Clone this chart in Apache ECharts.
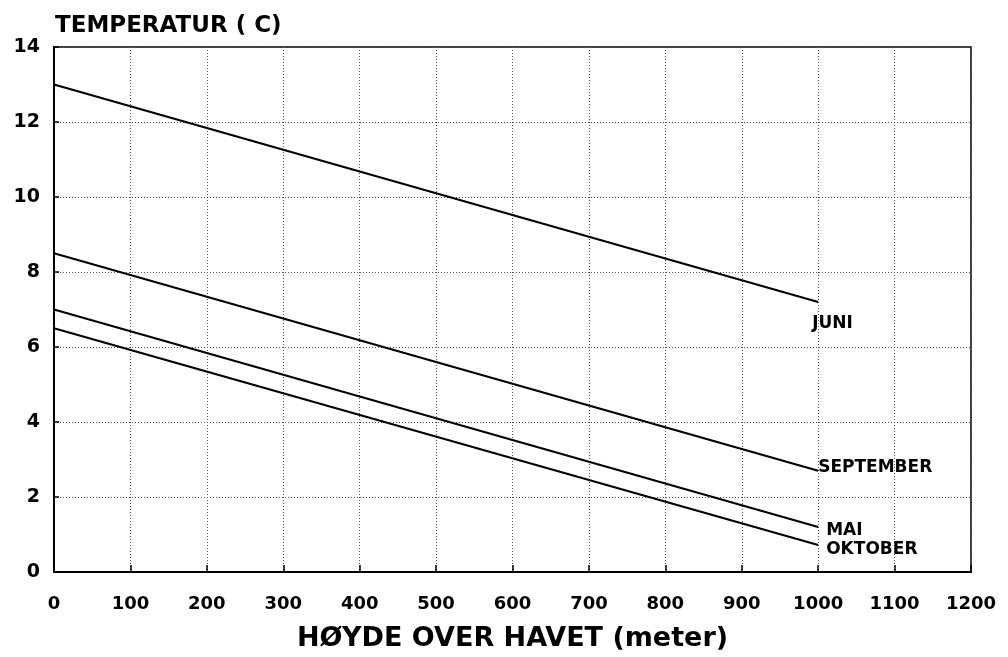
<!DOCTYPE html>
<html>
<head>
<meta charset="utf-8">
<script src="https://cdn.jsdelivr.net/npm/echarts@6/dist/echarts.min.js"></script>
<style>
  html, body { margin: 0; padding: 0; background: #fff; }
  #chart { width: 1008px; height: 657px; }
</style>
</head>
<body>
<div id="chart"></div>
<script>
// hoyde over havet (meter)
const heights = [0, 1000]
const juni = [13.0, 7.2]
const september = [8.5, 2.7]
const mai = [7.0, 1.2]
const oktober = [6.5, 0.72]
const xTicks = [0, 100, 200, 300, 400, 500, 600, 700, 800, 900, 1000, 1100, 1200]
const yTicks = [0, 2, 4, 6, 8, 10, 12, 14]

const font = '"DejaVu Sans", "Liberation Sans", Arial, sans-serif'

function pairs (ys) {
  return heights.map((x, i) => [x, ys[i]])
}

function lineSeries (name, ys, offset) {
  return {
    name: name,
    type: 'line',
    data: pairs(ys),
    showSymbol: false,
    silent: true,
    lineStyle: { color: '#000', width: 2.2 },
    endLabel: {
      show: true,
      formatter: name,
      distance: 0,
      offset: offset,
      color: '#000',
      fontFamily: font,
      fontWeight: 'bold',
      fontSize: 17
    }
  }
}

const chart = echarts.init(document.getElementById('chart'))
chart.setOption({
  animation: false,
  backgroundColor: '#fff',
  title: {
    text: 'TEMPERATUR ( C)',
    left: 50,
    top: 10,
    textStyle: { fontFamily: font, fontWeight: 'bold', fontSize: 23, color: '#000' }
  },
  grid: {
    left: 54,
    right: 37,
    top: 47,
    bottom: 85,
    show: true,
    borderColor: '#000',
    borderWidth: 1.5
  },
  xAxis: {
    type: 'value',
    min: 0,
    max: 1200,
    interval: 100,
    name: 'HØYDE OVER HAVET (meter)',
    nameLocation: 'middle',
    nameGap: 53,
    nameTextStyle: { fontFamily: font, fontWeight: 'bold', fontSize: 27, color: '#000' },
    axisLine: { show: true, lineStyle: { color: '#000', width: 2 } },
    axisTick: { show: true, inside: true, length: 7, lineStyle: { color: '#000', width: 1.5 } },
    axisLabel: {
      margin: 23,
      color: '#000',
      fontFamily: font,
      fontWeight: 'bold',
      fontSize: 18,
      formatter: v => xTicks.includes(v) ? String(v) : ''
    },
    splitLine: { show: true, lineStyle: { color: '#555', width: 1, type: [1, 2] } }
  },
  yAxis: {
    type: 'value',
    min: 0,
    max: 14,
    interval: 2,
    axisLine: { show: true, lineStyle: { color: '#000', width: 2 } },
    axisTick: { show: true, inside: true, length: 5, lineStyle: { color: '#000', width: 1.5 } },
    axisLabel: {
      margin: 14,
      color: '#000',
      fontFamily: font,
      fontWeight: 'bold',
      fontSize: 19,
      formatter: v => yTicks.includes(v) ? String(v) : ''
    },
    splitLine: { show: true, lineStyle: { color: '#555', width: 1, type: [1, 2] } }
  },
  series: [
    lineSeries('JUNI', juni, [-6, 22]),
    lineSeries('SEPTEMBER', september, [0, -3]),
    lineSeries('MAI', mai, [8, 4]),
    lineSeries('OKTOBER', oktober, [8, 5])
  ]
})
</script>
</body>
</html>
